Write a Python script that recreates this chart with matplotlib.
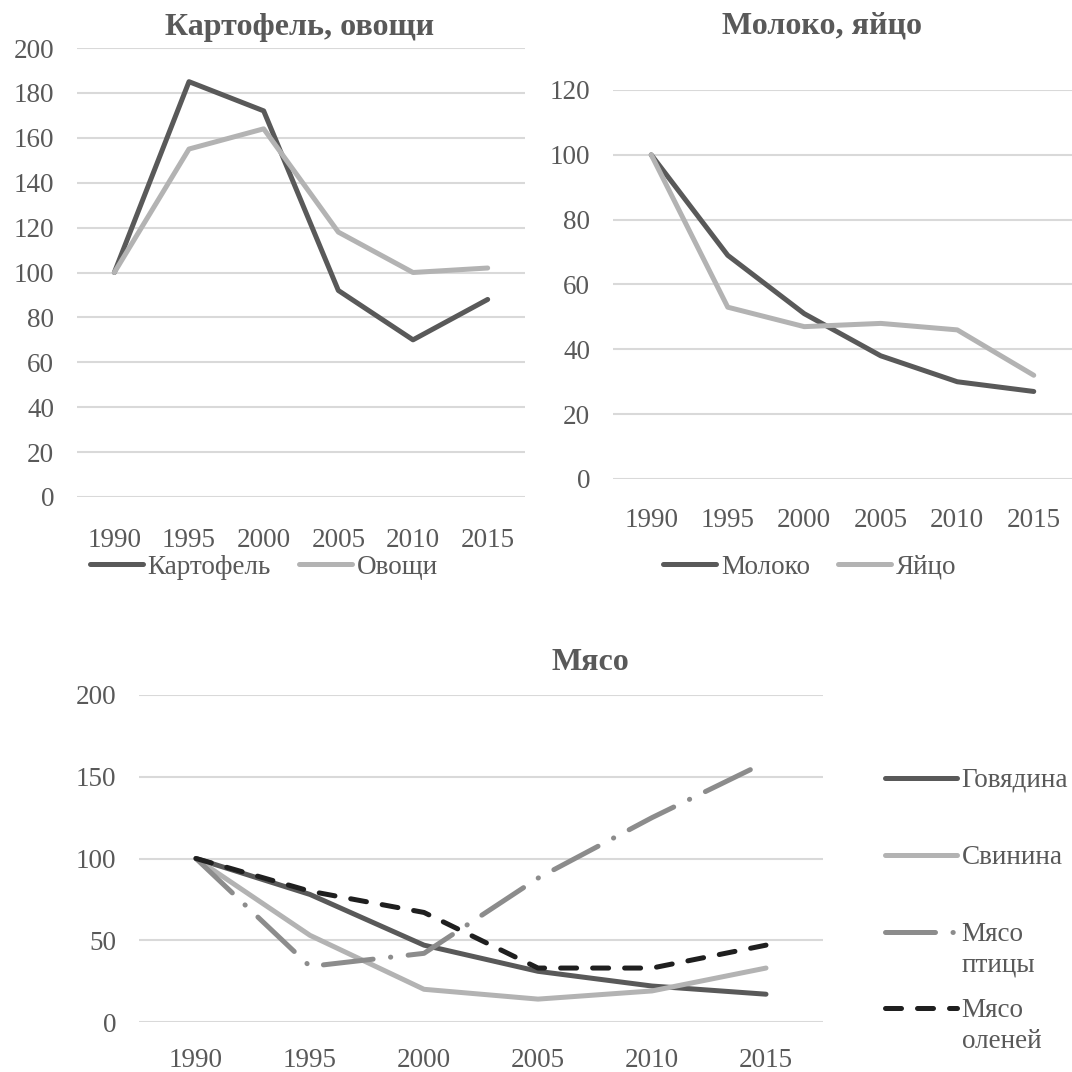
import matplotlib
matplotlib.use('Agg')
import matplotlib.pyplot as plt
from matplotlib.legend_handler import HandlerLine2D

plt.rcParams['font.family'] = ['Liberation Serif', 'DejaVu Serif']

# Данные (индекс, 1990 = 100)
years = ['1990', '1995', '2000', '2005', '2010', '2015']

kartofel = [100, 185, 172, 92, 70, 88]
ovoshchi = [100, 155, 164, 118, 100, 102]

moloko = [100, 69, 51, 38, 30, 27]
yaytso = [100, 53, 47, 48, 46, 32]

govyadina = [100, 78, 47, 31, 22, 17]
svinina = [100, 53, 20, 14, 19, 33]
myaso_ptitsy = [100, 34, 42, 88, 125, 159]
myaso_oleney = [100, 80, 67, 33, 33, 47]

DARK = '#595959'
LIGHT = '#b3b3b3'
MID = '#8c8c8c'
BLACK = '#1f1f1f'
GRID = '#d9d9d9'
FS = 19.5
TFS = 23
LW = 3.6


class HandlerFirstLine(HandlerLine2D):
    # линия легенды на уровне первой строки подписи
    def __init__(self, shift, **kw):
        super().__init__(**kw)
        self.shift = shift

    def create_artists(self, legend, orig_handle, xdescent, ydescent,
                       width, height, fontsize, trans):
        arts = super().create_artists(legend, orig_handle, xdescent, ydescent,
                                      width, height, fontsize, trans)
        for a in arts:
            a.set_ydata([y + self.shift * fontsize for y in a.get_ydata()])
        return arts


def style_axes(ax, ymax, ystep, xpad):
    x = range(len(years))
    ax.set_xlim(-0.5, len(years) - 0.5)
    ax.set_ylim(0, ymax)
    ax.set_yticks(range(0, ymax + 1, ystep))
    ax.set_xticks(list(x))
    ax.set_xticklabels(years)
    ax.grid(axis='y', color=GRID, linewidth=1.5)
    ax.set_axisbelow(True)
    for s in ax.spines.values():
        s.set_visible(False)
    ax.tick_params(axis='y', length=0, pad=16.5, labelsize=FS, labelcolor=DARK)
    ax.tick_params(axis='x', length=0, pad=xpad, labelsize=FS, labelcolor=DARK)


fig = plt.figure(figsize=(10.72, 10.72), dpi=100)
W = H = 1072.0
x = range(len(years))

# --- Картофель, овощи ---
ax1 = fig.add_axes([77 / W, 1 - 497 / H, 448 / W, 449 / H])
ax1.plot(x, kartofel, color=DARK, lw=LW, label='Картофель', solid_capstyle='round')
ax1.plot(x, ovoshchi, color=LIGHT, lw=LW, label='Овощи', solid_capstyle='round')
style_axes(ax1, 200, 20, 22)
fig.text(300 / W, 1 - 28 / H, 'Картофель, овощи', ha='center', va='center',
         fontsize=TFS, fontweight='bold', color=DARK)
fig.legend(handles=ax1.get_lines(), loc='center', bbox_to_anchor=(264 / W, 1 - 567 / H),
           ncol=2, frameon=False, fontsize=FS, handlelength=1.95, handletextpad=0.18,
           columnspacing=1.05, labelcolor=DARK, borderpad=0)

# --- Молоко, яйцо ---
ax2 = fig.add_axes([613 / W, 1 - 479 / H, 459 / W, 389 / H])
ax2.plot(x, moloko, color=DARK, lw=LW, label='Молоко', solid_capstyle='round')
ax2.plot(x, yaytso, color=LIGHT, lw=LW, label='Яйцо', solid_capstyle='round')
style_axes(ax2, 120, 20, 21)
fig.text(822 / W, 1 - 26 / H, 'Молоко, яйцо', ha='center', va='center',
         fontsize=TFS, fontweight='bold', color=DARK)
fig.legend(handles=ax2.get_lines(), loc='center', bbox_to_anchor=(810 / W, 1 - 567 / H),
           ncol=2, frameon=False, fontsize=FS, handlelength=1.95, handletextpad=0.18,
           columnspacing=1.05, labelcolor=DARK, borderpad=0)

# --- Мясо ---
ax3 = fig.add_axes([139 / W, 1 - 1022 / H, 684 / W, 327 / H])
ax3.plot(x, govyadina, color=DARK, lw=LW, label='Говядина', solid_capstyle='round')
ax3.plot(x, svinina, color=LIGHT, lw=LW, label='Свинина', solid_capstyle='round')
ax3.plot(x, myaso_ptitsy, color=MID, lw=LW, label='Мясо\nптицы',
         dashes=(10, 3.5, 0.05, 3.5), dash_capstyle='round')
ax3.plot(x, myaso_oleney, color=BLACK, lw=LW, label='Мясо\nоленей',
         dashes=(3.2, 3.2), dash_capstyle='round')
style_axes(ax3, 200, 50, 19)
fig.text(590 / W, 1 - 662 / H, 'Мясо', ha='center', va='center',
         fontsize=TFS, fontweight='bold', color=DARK)

# легенда справа: элементы распределены равномерно, как в Excel
entry_y = [779, 856, 933, 1009]
for line, yy in zip(ax3.get_lines(), entry_y):
    two = '\n' in line.get_label()
    leg = fig.legend(handles=[line], loc='upper left',
                     bbox_to_anchor=(885 / W, 1 - (yy - 11) / H),
                     frameon=False, fontsize=FS, handlelength=2.65, handletextpad=0.18,
                     labelcolor=DARK, borderpad=0, borderaxespad=0,
                     handler_map={line: HandlerFirstLine(0.65 if two else 0.0)})
    if two:
        leg.get_texts()[0].set_linespacing(1.3)

fig.savefig('out.png', dpi=100)
